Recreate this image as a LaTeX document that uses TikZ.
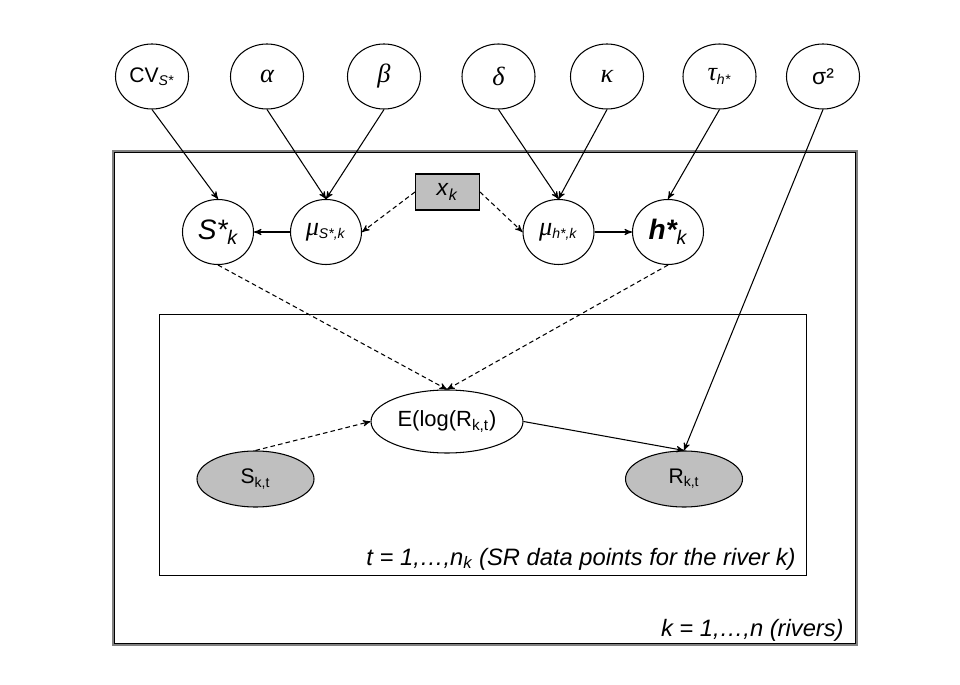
\documentclass[tikz,border=0pt]{standalone}
\usepackage{fontspec}
\setmainfont{Liberation Sans}
\newfontfamily\greekfont{Liberation Serif}
\usepackage{tikz}
\usetikzlibrary{arrows, positioning, calc, shapes.geometric}

\newcommand{\grk}[1]{{\greekfont\itshape\fontsize{15}{17}\selectfont #1}}

\begin{document}
\begin{tikzpicture}[>=stealth',auto,node distance=2.3cm,
			semithick,
			par node/.style={ellipse,draw,inner sep=0pt,minimum width=1.46cm,minimum height=1.3cm,font=\fontsize{12}{14}\selectfont},
			lat node/.style={par node,minimum width=1.42cm,font=\fontsize{12}{14}\selectfont},
			obs node/.style={ellipse,draw,fill=gray!50,inner sep=0pt,minimum width=2.34cm,minimum height=1.12cm,font=\fontsize{12}{14}\selectfont},
			cov node/.style={rectangle,draw,fill=gray!50,minimum width=1.28cm,minimum height=0.72cm,font=\fontsize{13}{15}\selectfont},
			dep/.style={dash pattern=on 2.6pt off 1.8pt},
			plate label/.style={anchor=base east,font=\fontsize{13.5}{16}\selectfont\itshape}]
			
			\useasboundingbox (0,0) rectangle (19.2,13.68);
			
			% plates
			\draw[gray,line width=1pt] (2.26,0.78) rectangle (17.14,10.66);
			\draw[line width=0.5pt] (2.295,0.815) rectangle (17.105,10.625);
			\draw[line width=0.45pt] (3.18,2.18) rectangle (16.12,7.40);
			
			% priors
			\node[par node] (cv) at (3.04,12.15) {CV\textsubscript{\textit{S*}}};
			\node[par node] (alpha) [right of=cv] {\grk{α}};
			\node[par node] (beta) [right of=alpha, node distance=2.34cm] {\grk{β}};
			\node[par node] (delta) [right of=beta, node distance=2.29cm] {\grk{δ}};
			\node[par node] (kappa) [right of=delta, node distance=2.17cm] {\grk{κ}};
			\node[par node] (tau) [right of=kappa, node distance=2.25cm] {\grk{τ}\textsubscript{\textit{h*}}};
			\node[par node] (sigma) [right of=tau, node distance=2.07cm] {{\fontsize{13}{15}\selectfont σ²}};
			
			% river level
			\node[lat node] (sstar) at (4.36,9.04) {{\fontsize{16}{18}\selectfont\itshape S*\textsubscript{k}}};
			\node[lat node] (musstar) [right of=sstar, node distance=2.16cm] {\grk{μ}\textsubscript{\textit{S*,k}}};
			\node[cov node] (xk) at (8.95,9.84) {\textit{x}\textsubscript{\textit{k}}};
			\node[lat node] (muhstar) at (11.17,9.04) {\grk{μ}\textsubscript{\textit{h*,k}}};
			\node[lat node] (hstar) [right of=muhstar, node distance=2.19cm] {{\fontsize{16}{18}\selectfont\bfseries\itshape h*\textsubscript{\mdseries k}}};
			
			% data level
			\node[ellipse,draw,inner sep=0pt,minimum width=3.04cm,minimum height=1.26cm,font=\fontsize{12.5}{15}\selectfont] (elog) at (8.94,5.25) {E(log(R\textsubscript{k,t})};
			\node[obs node] (skt) at (5.11,4.10) {S\textsubscript{k,t}};
			\node[obs node] (rkt) at (13.68,4.10) {R\textsubscript{k,t}};
			
			\node[plate label] (tplate) at (16.04,2.38) {t = 1,…,n\textsubscript{k} (SR data points for the river k)};
			\node[plate label] (kplate) at (17.0,0.96) {k = 1,…,n (rivers)};
			
			\path[->]
			
			(cv.south) edge (sstar.north)
			(alpha.south) edge (musstar.north)
			(beta.south) edge (musstar.north)
			(delta.south) edge (muhstar.north)
			(kappa.south) edge (muhstar.north)
			(tau.south) edge (hstar.north)
			(sigma.south) edge (rkt.north)
			(musstar) edge (sstar)
			(muhstar) edge (hstar)
			(elog.east) edge (rkt.north);
			
			\path[->,dep]
			
			(xk.west) edge (musstar.east)
			(xk.east) edge (muhstar.west)
			(sstar.south) edge (elog.north)
			(hstar.south) edge (elog.north)
			(skt.north) edge (elog.west);
		\end{tikzpicture}
\end{document}
